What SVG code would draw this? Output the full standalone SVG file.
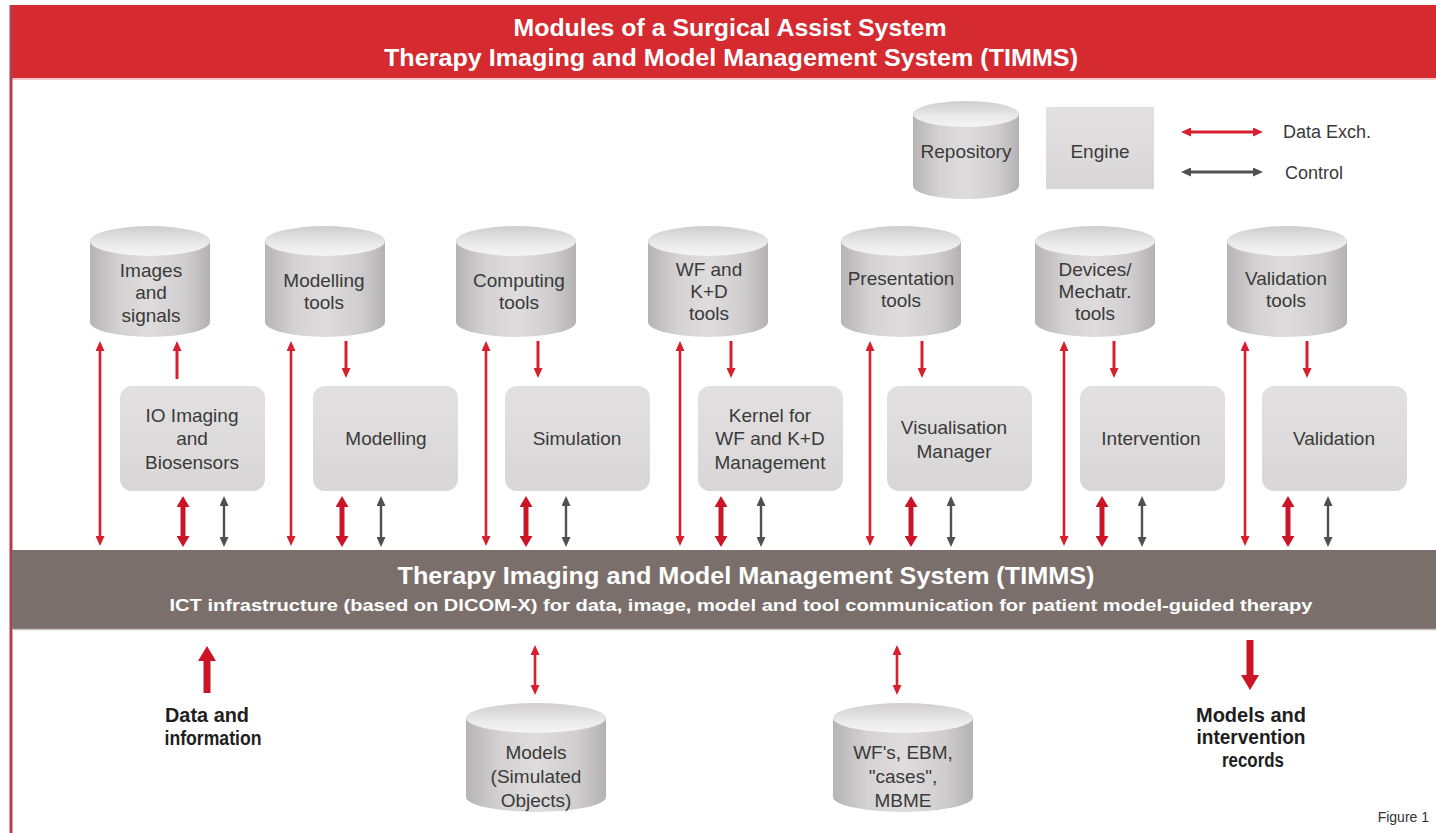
<svg xmlns="http://www.w3.org/2000/svg" width="1436" height="833" viewBox="0 0 1436 833">
  <defs>
    <style>
      .hdr { font-family: "Liberation Sans Narrow", "Liberation Sans", Arial, sans-serif; font-weight: bold; fill: #ffffff; text-anchor: middle; }
      .lbl { font-family: "Liberation Sans", Arial, sans-serif; font-size: 19px; fill: #3a3a3a; text-anchor: middle; }
      .cap { font-family: "Liberation Sans Narrow", "Liberation Sans", Arial, sans-serif; font-weight: bold; font-size: 20px; fill: #1e1e1e; text-anchor: middle; }
      .leg { font-family: "Liberation Sans", Arial, sans-serif; font-size: 18px; fill: #3a3a3a; }
      .body { fill: url(#cylBody); }
      .lid { fill: url(#cylLid); }
      .eng { fill: url(#engFill); }
      .data { stroke: #d71f2d; stroke-width: 2.6; fill: none; marker-start: url(#hRed); marker-end: url(#hRed); }
      .one { stroke: #d71f2d; stroke-width: 3; fill: none; marker-end: url(#hRed); }
      .thick { stroke: #cc1427; stroke-width: 5; fill: none; marker-start: url(#hRedBig); marker-end: url(#hRedBig); }
      .ctrl { stroke: #505050; stroke-width: 2.4; fill: none; marker-start: url(#hGray); marker-end: url(#hGray); }
      .fat { stroke: #cc1427; stroke-width: 7; fill: none; marker-end: url(#hFat); }
    </style>
    <linearGradient id="cylBody" x1="0" y1="0" x2="1" y2="0">
      <stop offset="0" stop-color="#b6b4b4"/>
      <stop offset="0.25" stop-color="#d4d2d2"/>
      <stop offset="0.5" stop-color="#dedcdc"/>
      <stop offset="0.8" stop-color="#cfcdcd"/>
      <stop offset="1" stop-color="#b3b1b1"/>
    </linearGradient>
    <linearGradient id="cylLid" x1="0" y1="0" x2="0" y2="1">
      <stop offset="0" stop-color="#cfcdcd"/>
      <stop offset="0.6" stop-color="#eaeaea"/>
      <stop offset="1" stop-color="#f5f5f5"/>
    </linearGradient>
    <linearGradient id="engFill" x1="0" y1="0" x2="0" y2="1">
      <stop offset="0" stop-color="#e2e0e0"/>
      <stop offset="1" stop-color="#d8d6d6"/>
    </linearGradient>
    <marker id="hRed" markerUnits="userSpaceOnUse" viewBox="0 0 10 9" markerWidth="10" markerHeight="9" refX="2" refY="4.5" orient="auto-start-reverse">
      <path d="M0,0 L10,4.5 L0,9 z" fill="#d71f2d"/>
    </marker>
    <marker id="hRedBig" markerUnits="userSpaceOnUse" viewBox="0 0 11 13" markerWidth="11" markerHeight="13" refX="2" refY="6.5" orient="auto-start-reverse">
      <path d="M0,0 L11,6.5 L0,13 z" fill="#cc1427"/>
    </marker>
    <marker id="hGray" markerUnits="userSpaceOnUse" viewBox="0 0 10 9" markerWidth="10" markerHeight="9" refX="2" refY="4.5" orient="auto-start-reverse">
      <path d="M0,0 L10,4.5 L0,9 z" fill="#505050"/>
    </marker>
    <marker id="hFat" markerUnits="userSpaceOnUse" viewBox="0 0 15 18" markerWidth="15" markerHeight="18" refX="2" refY="9" orient="auto">
      <path d="M0,0 L15,9 L0,18 z" fill="#cc1427"/>
    </marker>
  </defs>

  <rect x="0" y="0" width="1436" height="833" fill="#ffffff"/>

  <!-- title band -->
  <g id="title">
    <rect x="11" y="5" width="1425" height="73" fill="#d52a30"/>
    <line x1="11" y1="79" x2="1436" y2="79" stroke="#f0b8b8" stroke-width="1.5"/>
    <text class="hdr" x="730" y="36" font-size="23" textLength="433" lengthAdjust="spacingAndGlyphs">Modules of a Surgical Assist System</text>
    <text class="hdr" x="731" y="66" font-size="23" textLength="694" lengthAdjust="spacingAndGlyphs">Therapy Imaging and Model Management System (TIMMS)</text>
  </g>
  <line x1="11" y1="5" x2="11" y2="833" stroke="#b0404e" stroke-width="3"/>

  <!-- legend -->
  <g id="legend-repository">
    <path class="body" d="M913,114 V186 A53,13 0 0 0 1019,186 V114 Z"/>
    <ellipse class="lid" cx="966" cy="114" rx="53" ry="13"/>
    <text class="lbl" x="966" y="158" font-size="18">Repository</text>
  </g>
  <g id="legend-engine">
    <rect class="eng" x="1046" y="107" width="108" height="82"/>
    <text class="lbl" x="1100" y="158" font-size="18">Engine</text>
  </g>
  <g id="legend-keys">
    <line class="data" x1="1189" y1="132" x2="1255" y2="132" style="stroke-width:3"/>
    <text class="leg" x="1283" y="138">Data Exch.</text>
    <line class="ctrl" x1="1189" y1="172" x2="1255" y2="172" style="stroke-width:3"/>
    <text class="leg" x="1285" y="179">Control</text>
  </g>

  <!-- repositories (tools) -->
  <g id="repo-images">
    <path class="body" d="M90,241 V322 A60,15 0 0 0 210,322 V241 Z"/>
    <ellipse class="lid" cx="150" cy="241" rx="60" ry="15"/>
    <text class="lbl" x="151" y="277">Images</text>
    <text class="lbl" x="151" y="299">and</text>
    <text class="lbl" x="151" y="322">signals</text>
  </g>
  <g id="repo-modelling">
    <path class="body" d="M265,241 V322 A60,15 0 0 0 385,322 V241 Z"/>
    <ellipse class="lid" cx="325" cy="241" rx="60" ry="15"/>
    <text class="lbl" x="324" y="287">Modelling</text>
    <text class="lbl" x="324" y="309">tools</text>
  </g>
  <g id="repo-computing">
    <path class="body" d="M456,241 V322 A60,15 0 0 0 576,322 V241 Z"/>
    <ellipse class="lid" cx="516" cy="241" rx="60" ry="15"/>
    <text class="lbl" x="519" y="287">Computing</text>
    <text class="lbl" x="519" y="309">tools</text>
  </g>
  <g id="repo-wf">
    <path class="body" d="M648,241 V322 A60,15 0 0 0 768,322 V241 Z"/>
    <ellipse class="lid" cx="708" cy="241" rx="60" ry="15"/>
    <text class="lbl" x="709" y="276">WF and</text>
    <text class="lbl" x="709" y="298">K+D</text>
    <text class="lbl" x="709" y="320">tools</text>
  </g>
  <g id="repo-presentation">
    <path class="body" d="M841,241 V322 A60,15 0 0 0 961,322 V241 Z"/>
    <ellipse class="lid" cx="901" cy="241" rx="60" ry="15"/>
    <text class="lbl" x="901" y="285">Presentation</text>
    <text class="lbl" x="901" y="307">tools</text>
  </g>
  <g id="repo-devices">
    <path class="body" d="M1035,241 V322 A60,15 0 0 0 1155,322 V241 Z"/>
    <ellipse class="lid" cx="1095" cy="241" rx="60" ry="15"/>
    <text class="lbl" x="1095" y="276">Devices/</text>
    <text class="lbl" x="1095" y="298">Mechatr.</text>
    <text class="lbl" x="1095" y="320">tools</text>
  </g>
  <g id="repo-validation">
    <path class="body" d="M1227,241 V322 A60,15 0 0 0 1347,322 V241 Z"/>
    <ellipse class="lid" cx="1287" cy="241" rx="60" ry="15"/>
    <text class="lbl" x="1286" y="285">Validation</text>
    <text class="lbl" x="1286" y="307">tools</text>
  </g>

  <!-- engines -->
  <g id="eng-io">
    <rect class="eng" x="120" y="386" width="145" height="105" rx="12"/>
    <text class="lbl" x="192" y="422">IO Imaging</text>
    <text class="lbl" x="192" y="445">and</text>
    <text class="lbl" x="192" y="469">Biosensors</text>
  </g>
  <g id="eng-modelling">
    <rect class="eng" x="313" y="386" width="145" height="105" rx="12"/>
    <text class="lbl" x="386" y="445">Modelling</text>
  </g>
  <g id="eng-simulation">
    <rect class="eng" x="505" y="386" width="145" height="105" rx="12"/>
    <text class="lbl" x="577" y="445">Simulation</text>
  </g>
  <g id="eng-kernel">
    <rect class="eng" x="698" y="386" width="145" height="105" rx="12"/>
    <text class="lbl" x="770" y="422">Kernel for</text>
    <text class="lbl" x="770" y="445">WF and K+D</text>
    <text class="lbl" x="770" y="469">Management</text>
  </g>
  <g id="eng-visualisation">
    <rect class="eng" x="887" y="386" width="145" height="105" rx="12"/>
    <text class="lbl" x="954" y="434">Visualisation</text>
    <text class="lbl" x="954" y="458">Manager</text>
  </g>
  <g id="eng-intervention">
    <rect class="eng" x="1080" y="386" width="145" height="105" rx="12"/>
    <text class="lbl" x="1151" y="445">Intervention</text>
  </g>
  <g id="eng-validation">
    <rect class="eng" x="1262" y="386" width="145" height="105" rx="12"/>
    <text class="lbl" x="1334" y="445">Validation</text>
  </g>

  <!-- communication bus -->
  <g id="bus">
    <rect x="12" y="550" width="1424" height="80" fill="#7b6f6c"/>
    <line x1="12" y1="629.5" x2="1436" y2="629.5" stroke="#c9c0bd" stroke-width="1.5"/>
    <text class="hdr" x="746" y="584" font-size="23" textLength="697" lengthAdjust="spacingAndGlyphs">Therapy Imaging and Model Management System (TIMMS)</text>
    <text class="hdr" x="741" y="611" font-size="16" textLength="1143" lengthAdjust="spacingAndGlyphs">ICT infrastructure (based on DICOM-X) for data, image, model and tool communication for patient model-guided therapy</text>
  </g>

  <!-- bottom stores -->
  <g id="store-models">
    <path class="body" d="M466,718 V797 A70,15 0 0 0 606,797 V718 Z"/>
    <ellipse class="lid" cx="536" cy="718" rx="70" ry="15"/>
    <text class="lbl" x="536" y="759">Models</text>
    <text class="lbl" x="536" y="783">(Simulated</text>
    <text class="lbl" x="536" y="807">Objects)</text>
  </g>
  <g id="store-wf">
    <path class="body" d="M833,718 V797 A70,15 0 0 0 973,797 V718 Z"/>
    <ellipse class="lid" cx="903" cy="718" rx="70" ry="15"/>
    <text class="lbl" x="903" y="759">WF's, EBM,</text>
    <text class="lbl" x="903" y="783">"cases",</text>
    <text class="lbl" x="903" y="807">MBME</text>
  </g>
  <g id="input-data">
    <text class="cap" x="207" y="722" textLength="84" lengthAdjust="spacingAndGlyphs">Data and</text>
    <text class="cap" x="213" y="745" textLength="97" lengthAdjust="spacingAndGlyphs">information</text>
  </g>
  <g id="output-records">
    <text class="cap" x="1251" y="722" textLength="110" lengthAdjust="spacingAndGlyphs">Models and</text>
    <text class="cap" x="1251" y="744" textLength="109" lengthAdjust="spacingAndGlyphs">intervention</text>
    <text class="cap" x="1253" y="767" textLength="62" lengthAdjust="spacingAndGlyphs">records</text>
  </g>
  <text x="1429" y="822" text-anchor="end" font-family="Liberation Sans Narrow, Liberation Sans, Arial, sans-serif" font-size="14" fill="#333">Figure 1</text>

  <!-- connectors -->
  <g id="connectors">
    <!-- repository <-> bus -->
    <line class="data" x1="100" y1="349" x2="100" y2="538"/>
    <line class="data" x1="291" y1="349" x2="291" y2="538"/>
    <line class="data" x1="486" y1="349" x2="486" y2="538"/>
    <line class="data" x1="680" y1="349" x2="680" y2="538"/>
    <line class="data" x1="870" y1="349" x2="870" y2="538"/>
    <line class="data" x1="1064" y1="349" x2="1064" y2="538"/>
    <line class="data" x1="1245" y1="349" x2="1245" y2="538"/>
    <!-- repository -> engine (IO writes back) -->
    <line class="one" x1="177" y1="379" x2="177" y2="349"/>
    <line class="one" x1="346" y1="341" x2="346" y2="370"/>
    <line class="one" x1="538" y1="341" x2="538" y2="370"/>
    <line class="one" x1="731" y1="341" x2="731" y2="370"/>
    <line class="one" x1="922" y1="341" x2="922" y2="370"/>
    <line class="one" x1="1114" y1="341" x2="1114" y2="370"/>
    <line class="one" x1="1307" y1="341" x2="1307" y2="370"/>
    <!-- engine <-> bus data -->
    <line class="thick" x1="183" y1="505" x2="183" y2="538"/>
    <line class="thick" x1="342" y1="505" x2="342" y2="538"/>
    <line class="thick" x1="526" y1="505" x2="526" y2="538"/>
    <line class="thick" x1="721" y1="505" x2="721" y2="538"/>
    <line class="thick" x1="911" y1="505" x2="911" y2="538"/>
    <line class="thick" x1="1102" y1="505" x2="1102" y2="538"/>
    <line class="thick" x1="1288" y1="505" x2="1288" y2="538"/>
    <!-- engine <-> bus control -->
    <line class="ctrl" x1="224" y1="504" x2="224" y2="539"/>
    <line class="ctrl" x1="381" y1="504" x2="381" y2="539"/>
    <line class="ctrl" x1="566" y1="504" x2="566" y2="539"/>
    <line class="ctrl" x1="761" y1="504" x2="761" y2="539"/>
    <line class="ctrl" x1="951" y1="504" x2="951" y2="539"/>
    <line class="ctrl" x1="1142" y1="504" x2="1142" y2="539"/>
    <line class="ctrl" x1="1328" y1="504" x2="1328" y2="539"/>
    <!-- bus <-> outside -->
    <line class="fat" x1="207" y1="693" x2="207" y2="659"/>
    <line class="data" x1="535" y1="653" x2="535" y2="687"/>
    <line class="data" x1="897" y1="653" x2="897" y2="687"/>
    <line class="fat" x1="1250" y1="640" x2="1250" y2="677"/>
  </g>
</svg>
